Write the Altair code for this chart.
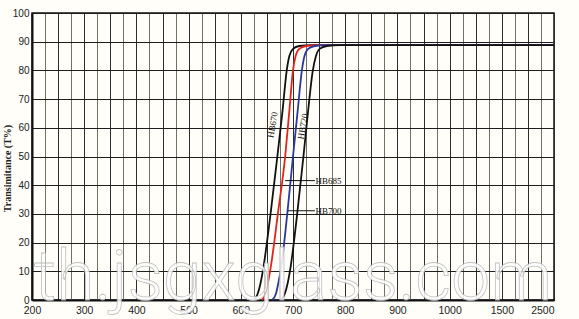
import altair as alt
import pandas as pd

# ---- data ----
series_names = ["HB670", "HB685", "HB700", "HB720"]
series_colors = ["#111111", "#e0241c", "#2a3a9c", "#111111"]

wl_hb670 = [625, 632, 638, 643, 657, 670, 680, 688, 693, 700, 712, 735, 1200]
t_hb670 = [0, 2, 6, 11, 30, 50, 66, 80, 85, 87.5, 88.5, 88.8, 88.8]
wl_hb685 = [640, 647, 652, 657, 671, 685, 693, 700, 705, 712, 725, 748, 1200]
t_hb685 = [0, 2, 6, 11, 30, 50, 66, 80, 85, 87.5, 88.5, 88.8, 88.8]
wl_hb700 = [660, 667, 672, 677, 689, 700, 709, 717, 722, 729, 742, 765, 1200]
t_hb700 = [0, 2, 6, 11, 30, 50, 66, 80, 85, 87.5, 88.5, 88.8, 88.8]
wl_hb720 = [677, 684, 690, 695, 708, 720, 729, 738, 744, 751, 765, 790, 1200]
t_hb720 = [0, 2, 6, 11, 30, 50, 66, 80, 85, 87.5, 88.5, 88.8, 88.8]

x_tick_values = list(range(200, 1201, 25))
x_label_values = [200, 300, 400, 500, 600, 700, 800, 900, 1000, 1100, 1200]
x_label_texts = ["200", "300", "400", "500", "600", "700", "800", "900", "1000", "1500", "2500"]
y_tick_values = list(range(0, 101, 10))

# annotations (data coordinates)
rot_label_text = ["HB670", "HB720"]
rot_label_x = [661, 719]
rot_label_y = [61, 60.5]

flat_label_text = ["HB685", "HB700"]
flat_label_x = [743, 743]
flat_label_y = [41.6, 31.1]
leader_x1 = [685, 690]
leader_x2 = [742, 742]

watermark_text = ["th.jsgxglass.com"]
watermark_x = [700]
watermark_y = [0]

# ---- tables ----
rows = []
for name, wls, ts in zip(series_names,
                         [wl_hb670, wl_hb685, wl_hb700, wl_hb720],
                         [t_hb670, t_hb685, t_hb700, t_hb720]):
    for i, (w, t) in enumerate(zip(wls, ts)):
        rows.append({"series": name, "wl": w, "T": t, "order": i})
curves = pd.DataFrame(rows)

rot_df = pd.DataFrame({"text": rot_label_text, "wl": rot_label_x, "T": rot_label_y})
flat_df = pd.DataFrame({"text": flat_label_text, "wl": flat_label_x, "T": flat_label_y,
                        "x1": leader_x1, "x2": leader_x2})
wm_df = pd.DataFrame({"text": watermark_text, "wl": watermark_x, "T": watermark_y})

label_map = " : ".join(
    [f"datum.value == {v} ? '{t}'" for v, t in zip(x_label_values, x_label_texts)]
) + " : ''"

xscale = alt.Scale(domain=[200, 1200], nice=False, zero=False)
yscale = alt.Scale(domain=[0, 100], nice=False)

x_axis = alt.Axis(
    values=x_tick_values,
    labelExpr=label_map,
    labelOverlap=False,
    labelBound=False,
    labelFont="Liberation Sans",
    labelFontSize=10.5,
    labelColor="#222222",
    labelPadding=5,
    tickSize=0,
    title=None,
    grid=True,
    gridColor={"condition": {"test": "datum.value % 50 == 0", "value": "#2e2e2e"}, "value": "#707064"},
    gridWidth=1,
    domainColor="#111111",
    domainWidth=2,
    labelAlign={"condition": {"test": "datum.value == 1200", "value": "right"}, "value": "center"},
)

y_axis = alt.Axis(
    values=y_tick_values,
    labelOverlap=False,
    labelFont="Liberation Sans",
    labelFontSize=10,
    labelColor="#222222",
    labelPadding=3,
    tickSize=0,
    grid=True,
    gridColor="#1e1e1e",
    gridWidth=1.2,
    domainColor="#111111",
    domainWidth=2,
    title="Transimitance (T%)",
    titleFont="Liberation Serif",
    titleFontSize=10,
    titleFontWeight="bold",
    titleColor="#222222",
    titleAngle=270,
    titleAlign="center",
    titleBaseline="middle",
    titleX=-25,
    titleY=155,
)

X = alt.X("wl:Q", scale=xscale, axis=x_axis)
Y = alt.Y("T:Q", scale=yscale, axis=y_axis)

base_lines = alt.Chart(curves).mark_line(strokeWidth=1.8, interpolate="monotone").encode(
    x=X, y=Y,
    color=alt.Color("series:N", scale=alt.Scale(domain=series_names, range=series_colors), legend=None),
    order="order:Q",
    detail="series:N",
)

rot_text = alt.Chart(rot_df).mark_text(
    angle=280, font="Liberation Serif", fontSize=9, color="#111111", align="center", baseline="middle"
).encode(x=X, y=Y, text="text:N")

leaders = alt.Chart(flat_df).mark_rule(color="#111111", strokeWidth=1).encode(
    x=alt.X("x1:Q", scale=xscale, axis=x_axis), x2="x2:Q", y=Y
)

flat_text = alt.Chart(flat_df).mark_text(
    font="Liberation Serif", fontSize=9, color="#111111", align="left", baseline="middle"
).encode(x=X, y=Y, text="text:N")

watermark = alt.Chart(wm_df).mark_text(
    font="Roboto", fontSize=70, fontWeight=300, fill="#ffffff", stroke="#b8b8b8", strokeWidth=0.8,
    opacity=0.88, align="center", baseline="alphabetic"
).encode(x=X, y=Y, text="text:N")

chart = alt.layer(base_lines, leaders, rot_text, flat_text, watermark).properties(
    width=522,
    height=287,
    background="#fffef8",
    padding={"left": 32, "top": 13, "right": 25, "bottom": 19},
    autosize=alt.AutoSizeParams(type="none"),
).configure_view(stroke="#111111", strokeWidth=1.5, fill="#fffef8")

chart.save("out.html", embed_options={"renderer": "svg", "actions": False})
